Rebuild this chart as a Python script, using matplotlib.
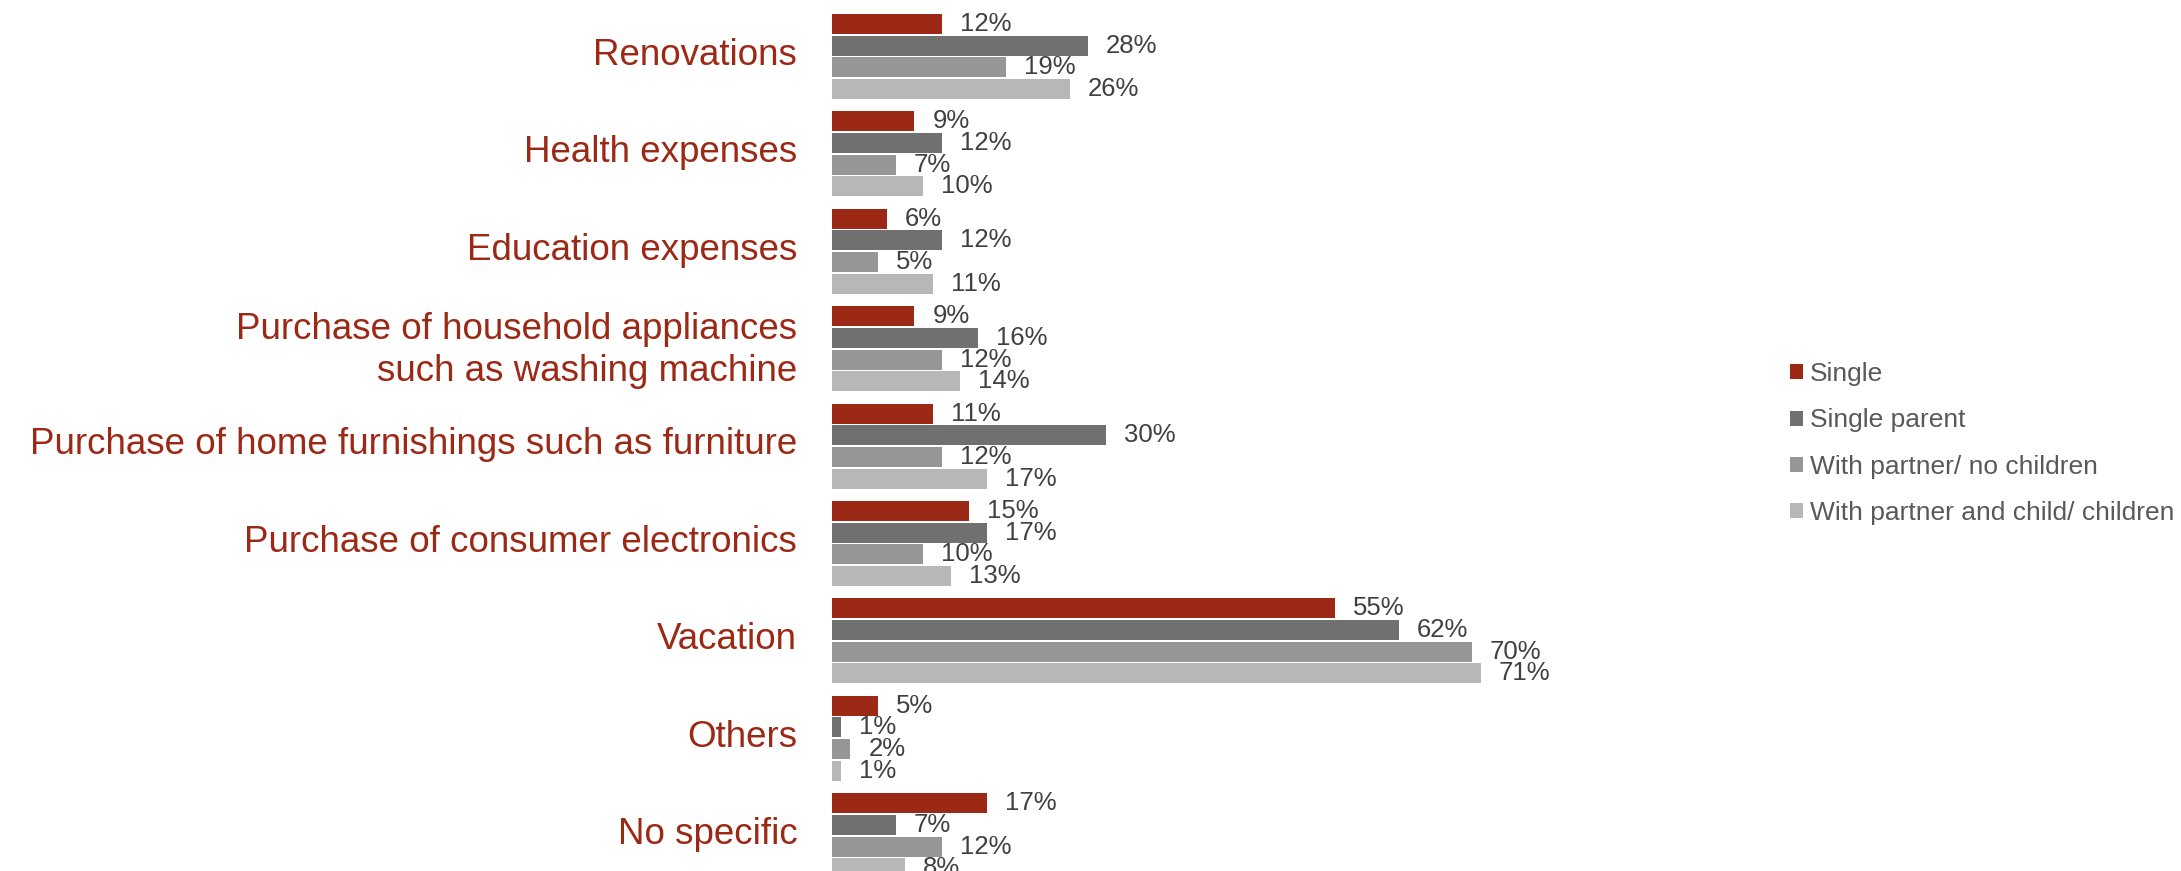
import matplotlib
matplotlib.use("Agg")
import matplotlib.pyplot as plt
from matplotlib.patches import Patch

plt.rcParams['font.family'] = ['Liberation Sans', 'DejaVu Sans']

categories = ["Renovations", "Health expenses", "Education expenses",
              "Purchase of household appliances\nsuch as washing machine",
              "Purchase of home furnishings such as furniture",
              "Purchase of consumer electronics", "Vacation", "Others", "No specific"]
series_names = ["Single", "Single parent", "With partner/ no children",
                "With partner and child/ children"]
single = [12, 9, 6, 9, 11, 15, 55, 5, 17]
single_parent = [28, 12, 12, 16, 30, 17, 62, 1, 7]
partner_no_children = [19, 7, 5, 12, 12, 10, 70, 2, 12]
partner_children = [26, 10, 11, 14, 17, 13, 71, 1, 8]
colors = ["#9B2915", "#707070", "#969696", "#B7B7B7"]

W, H = 2181, 871
fig = plt.figure(figsize=(W / 100, H / 100), dpi=100)
# bars start at x=832 px, 9.14 px per percent
ax = fig.add_axes([832 / W, 0, 914 / W, 1])

pitch = 97.4
top = 56.5 / pitch
ax.set_ylim(H / pitch - top, -top)
ax.set_xlim(0, 100)

data = [single, single_parent, partner_no_children, partner_children]
step = 0.223
for k, vals in enumerate(data):
    ys = [i + (k - 1.5) * step for i in range(len(categories))]
    ax.barh(ys, vals, height=0.205, color=colors[k], label=series_names[k])
    for y, v in zip(ys, vals):
        ax.annotate(f"{v}%", (v, y), xytext=(13, 0), textcoords="offset points",
                    va="center", ha="left", fontsize=18.5, color="#404040")

# category labels, drawn as text so they can sit a little above the group centre
for i, cat in enumerate(categories):
    ax.annotate(cat, (0, i), xytext=(-25, 3.8), textcoords="offset points",
                ha="right", va="center_baseline", fontsize=26.5,
                color="#9B2915", linespacing=1.25, annotation_clip=False)

ax.set_yticks([])
ax.set_xticks([])
for s in ax.spines.values():
    s.set_visible(False)

handles = [Patch(facecolor=c) for c in colors]
fig.legend(handles, series_names, loc="center left",
           bbox_to_anchor=(1790 / W, 1 - 443.5 / H), bbox_transform=fig.transFigure,
           frameon=False, fontsize=19, labelcolor="#595959",
           handlelength=0.5, handleheight=0.5, handletextpad=0.25,
           labelspacing=0.84, borderpad=0, borderaxespad=0)

fig.savefig("out.png", dpi=100)
